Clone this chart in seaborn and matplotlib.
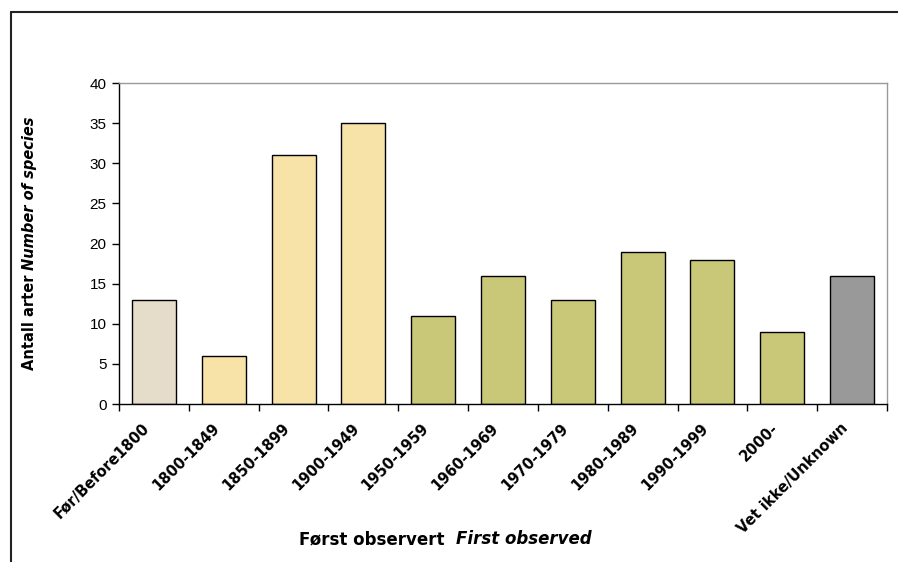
import matplotlib
matplotlib.use("Agg")
import matplotlib.pyplot as plt
import matplotlib.lines as mlines
import matplotlib.transforms as mtransforms
import seaborn as sns
import pandas as pd

categories = ["Før/Before1800", "1800-1849", "1850-1899", "1900-1949", "1950-1959",
              "1960-1969", "1970-1979", "1980-1989", "1990-1999", "2000-",
              "Vet ikke/Unknown"]
species = [13, 6, 31, 35, 11, 16, 13, 19, 18, 9, 16]
bar_colors = ["#E5DCCA", "#F7E3A8", "#F7E3A8", "#F7E3A8", "#C9C878", "#C9C878",
              "#C9C878", "#C9C878", "#C9C878", "#C9C878", "#999999"]

df = pd.DataFrame({"period": categories, "count": species})

sns.set_theme(style="white")
plt.rcParams["font.family"] = ["DejaVu Sans"]
plt.rcParams["text.color"] = "black"

fig = plt.figure(figsize=(8.98, 5.62), dpi=100)
ax = fig.add_axes([0.1325, 0.2811, 0.8553, 0.5712])

sns.barplot(data=df, x="period", y="count", hue="period",
            palette=dict(zip(categories, bar_colors)), legend=False,
            width=0.63, edgecolor="black", linewidth=1.0, saturation=1, ax=ax)

ax.set_ylim(0, 40)
ax.set_xlim(-0.5, len(categories) - 0.5)
ax.set_yticks(range(0, 41, 5))
ax.set_yticklabels([str(v) for v in range(0, 41, 5)],
                   fontfamily="Liberation Sans", fontsize=11, color="black")
ax.set_xticks(range(len(categories)))
ax.set_xticklabels(categories, rotation=45, ha="right", va="top", rotation_mode="anchor",
                   fontsize=10.5, fontweight="bold", color="black")
ax.set_xticks([i - 0.5 for i in range(len(categories) + 1)], minor=True)
ax.tick_params(axis="x", which="major", length=0, pad=12)
ax.tick_params(axis="x", which="minor", length=5, width=1, color="black", direction="out", bottom=True)
ax.tick_params(axis="y", length=5, width=1, color="black", direction="out", left=True, pad=4)

# nudge the slanted category labels slightly left of their bar centres
shift = mtransforms.ScaledTranslation(-12 / 100, 0, fig.dpi_scale_trans)
for lbl in ax.get_xticklabels():
    lbl.set_transform(lbl.get_transform() + shift)

for side in ["top", "right"]:
    ax.spines[side].set_visible(True)
    ax.spines[side].set_color("#999999")
    ax.spines[side].set_linewidth(1.0)
for side in ["left", "bottom"]:
    ax.spines[side].set_color("black")
    ax.spines[side].set_linewidth(1.0)

ax.set_xlabel("")
ax.set_ylabel("")

# Two-part axis titles: Norwegian in bold, English in bold italic
xl1 = fig.text(0.333, 0.025, "Først observert  ", fontsize=12, fontweight="bold",
               ha="left", va="bottom", color="black")
ax.annotate("First observed", xy=(1, 0), xycoords=xl1, fontsize=12,
            fontweight="bold", fontstyle="italic", ha="left", va="bottom",
            color="black", annotation_clip=False)

yl1 = fig.text(0.024, 0.341, "Antall arter ", fontsize=10.5, fontweight="bold",
               rotation=90, ha="left", va="bottom", color="black")
ax.annotate("Number of species", xy=(0, 1), xycoords=yl1, fontsize=10.5,
            fontweight="bold", fontstyle="italic", rotation=90,
            ha="left", va="bottom", color="black", annotation_clip=False)

# Chart frame
fig.add_artist(mlines.Line2D([0.0125, 0.0125], [0.0, 0.978], color="#222222", lw=1.5,
                             transform=fig.transFigure))
fig.add_artist(mlines.Line2D([0.0125, 1.0], [0.978, 0.978], color="#222222", lw=1.5,
                             transform=fig.transFigure))

fig.savefig("out.png", dpi=100)
